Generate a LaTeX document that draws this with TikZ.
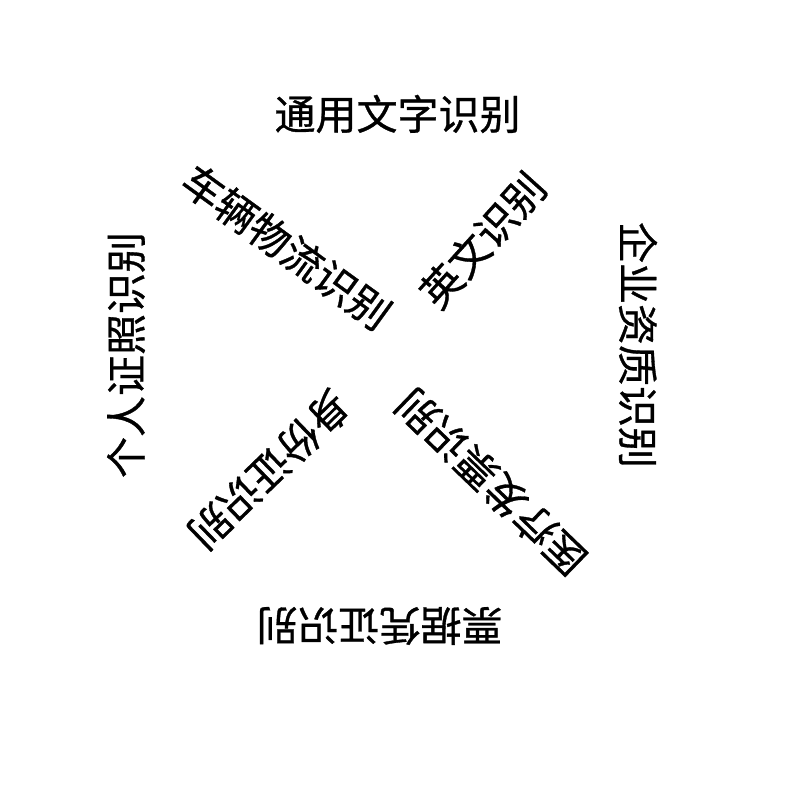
\documentclass[tikz,border=0pt]{standalone}
\usepackage{fontspec}
\newfontfamily\cjk[FakeBold=0.8]{Noto Sans CJK SC}
\begin{document}
\begin{tikzpicture}[x=1pt,y=1pt,
  word/.style={inner sep=0pt, font=\cjk\fontsize{41}{41}\selectfont, text=black}]
\useasboundingbox (0,0) rectangle (800,800);
\fill[white] (0,0) rectangle (800,800);
\node[word] (top) at (397.5,686) {通用文字识别};
\node[word, rotate=-90] (right) at (638,455) {企业资质识别};
\node[word, rotate=180] (bottom) at (379.5,174) {票据凭证识别};
\node[word, rotate=90] (left) at (126,445) {个人证照识别};
\node[word, rotate=-36] (vehicle) at (286.5,553) {车辆物流识别};
\node[word, rotate=48] (english) at (482.5,560) {英文识别};
\node[word, rotate=224] (idcard) at (269.5,330) {身份证识别};
\node[word, rotate=136] (medical) at (491,317.5) {医疗发票识别};
\end{tikzpicture}
\end{document}
